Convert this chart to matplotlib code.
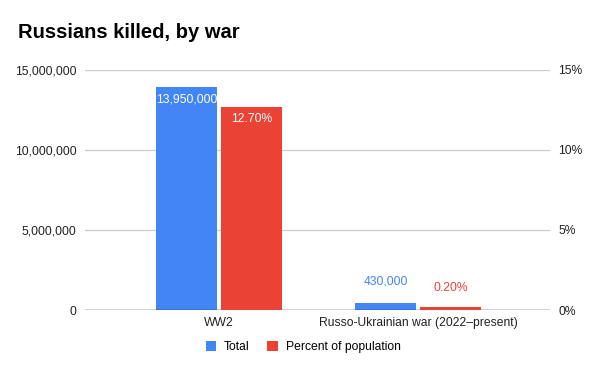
import matplotlib.pyplot as plt
import numpy as np

plt.rcParams['font.family'] = ['Liberation Sans', 'DejaVu Sans']

wars = ['WW2', 'Russo-Ukrainian war (2022\u2013present)']
total = [13950000, 430000]
percent = [12.70, 0.20]
total_labels = ['13,950,000', '430,000']
percent_labels = ['12.70%', '0.20%']
left_ticks = [0, 5000000, 10000000, 15000000]
left_ticklabels = ['0', '5,000,000', '10,000,000', '15,000,000']
right_ticks = [0, 5, 10, 15]
right_ticklabels = ['0%', '5%', '10%', '15%']

blue = '#4285f4'
red = '#ea4335'

fig = plt.figure(figsize=(6, 3.71), dpi=100)
ax = fig.add_axes([0.1417, 0.1644, 0.775, 0.647])
ax2 = ax.twinx()

x = np.arange(len(wars))
w = 0.31
gap = 0.008
b1 = ax.bar(x - w / 2 - gap, total, w, color=blue, zorder=3)
b2 = ax2.bar(x + w / 2 + gap, percent, w, color=red, zorder=3)

ax.set_xlim(-0.673, 1.663)
ax.set_ylim(0, 15000000)
ax2.set_ylim(0, 15)

ax.set_yticks(left_ticks)
ax.set_yticklabels(left_ticklabels)
ax2.set_yticks(right_ticks)
ax2.set_yticklabels(right_ticklabels)
ax.set_xticks(x)
ax.set_xticklabels(wars)

for s in list(ax.spines.values()) + list(ax2.spines.values()):
    s.set_visible(False)
ax.tick_params(axis='both', length=0, labelsize=8.7, labelcolor='#222222')
ax.tick_params(axis='y', pad=6, labelright=False)
ax.tick_params(axis='x', pad=5)
ax2.tick_params(axis='y', length=0, labelsize=8.7, labelcolor='#222222', pad=6,
                labelleft=False, labelright=True)

ax.grid(axis='y', color='#cccccc', linewidth=0.9, zorder=0)
ax.axhline(0, color='#333333', linewidth=1.0, zorder=4)

# value labels
for i in range(len(wars)):
    if total[i] > 3000000:
        ax.text(x[i] - w / 2 - gap, total[i] - 400000, total_labels[i], ha='center', va='top',
                color='white', fontsize=8.7, zorder=5)
    else:
        ax.text(x[i] - w / 2 - gap, total[i] + 1000000, total_labels[i], ha='center', va='bottom',
                color=blue, fontsize=8.7, zorder=5)
    if percent[i] > 3:
        ax2.text(x[i] + w / 2 + gap, percent[i] - 0.4, percent_labels[i], ha='center', va='top',
                 color='white', fontsize=8.7, zorder=5)
    else:
        ax2.text(x[i] + w / 2 + gap, percent[i] + 0.8, percent_labels[i], ha='center', va='bottom',
                 color=red, fontsize=8.7, zorder=5)

fig.text(0.03, 0.912, 'Russians killed, by war', fontsize=14.5, fontweight='bold',
         ha='left', va='center', color='black')

fig.legend([b1, b2], ['Total', 'Percent of population'], loc='center',
           bbox_to_anchor=(0.505, 0.065), ncol=2, frameon=False, fontsize=8.7,
           handlelength=0.9, handleheight=0.9, handletextpad=0.6, columnspacing=1.5)

fig.savefig('out.png', dpi=100)
